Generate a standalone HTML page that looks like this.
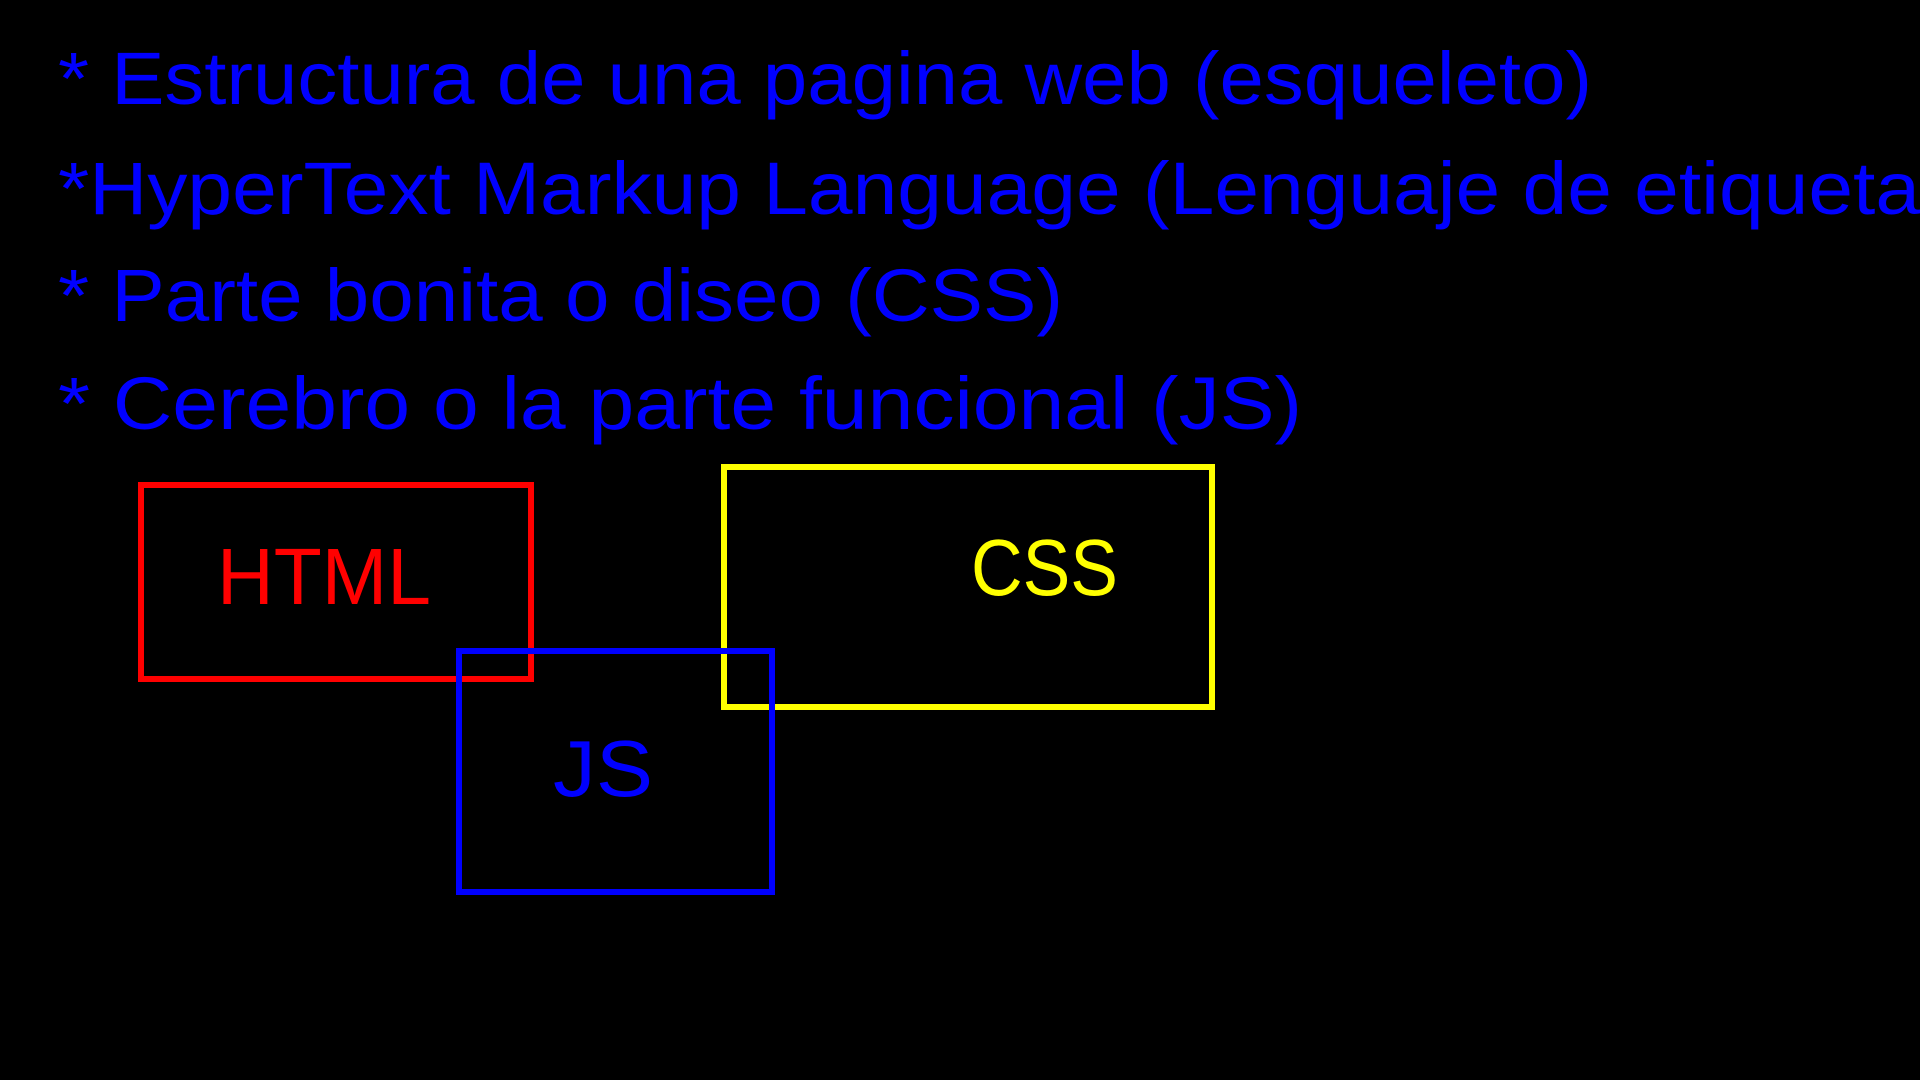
<!DOCTYPE html>
<html><head><meta charset="utf-8"><style>
html,body{margin:0;padding:0;background:#000;width:1920px;height:1080px;overflow:hidden}
svg{display:block}
text{font-family:"Liberation Sans",sans-serif}
</style></head><body>
<svg width="1920" height="1080" viewBox="0 0 1920 1080" xmlns="http://www.w3.org/2000/svg">
<rect width="1920" height="1080" fill="#000"/>
<g fill="#0000ff" font-size="74">
<text x="58" y="104" textLength="1534" lengthAdjust="spacingAndGlyphs">* Estructura de una pagina web (esqueleto)</text>
<text x="58" y="214" textLength="1862" lengthAdjust="spacingAndGlyphs">*HyperText Markup Language (Lenguaje de etiqueta</text>
<text x="58" y="321" textLength="1005" lengthAdjust="spacingAndGlyphs">* Parte bonita o diseo (CSS)</text>
<text x="58" y="429" textLength="1244" lengthAdjust="spacingAndGlyphs">* Cerebro o la parte funcional (JS)</text>
</g>
<rect x="141" y="485" width="390" height="194" fill="none" stroke="#ff0000" stroke-width="6"/>
<rect x="724" y="467" width="488" height="240" fill="none" stroke="#ffff00" stroke-width="6"/>
<rect x="459" y="651" width="313" height="241" fill="none" stroke="#0000ff" stroke-width="6"/>
<text x="217" y="604" font-size="80" fill="#ff0000" textLength="214" lengthAdjust="spacingAndGlyphs">HTML</text>
<text x="971" y="595" font-size="80" fill="#ffff00" textLength="147" lengthAdjust="spacingAndGlyphs">CSS</text>
<text x="553" y="796" font-size="80" fill="#0000ff" textLength="100" lengthAdjust="spacingAndGlyphs">JS</text>
</svg>
</body></html>
